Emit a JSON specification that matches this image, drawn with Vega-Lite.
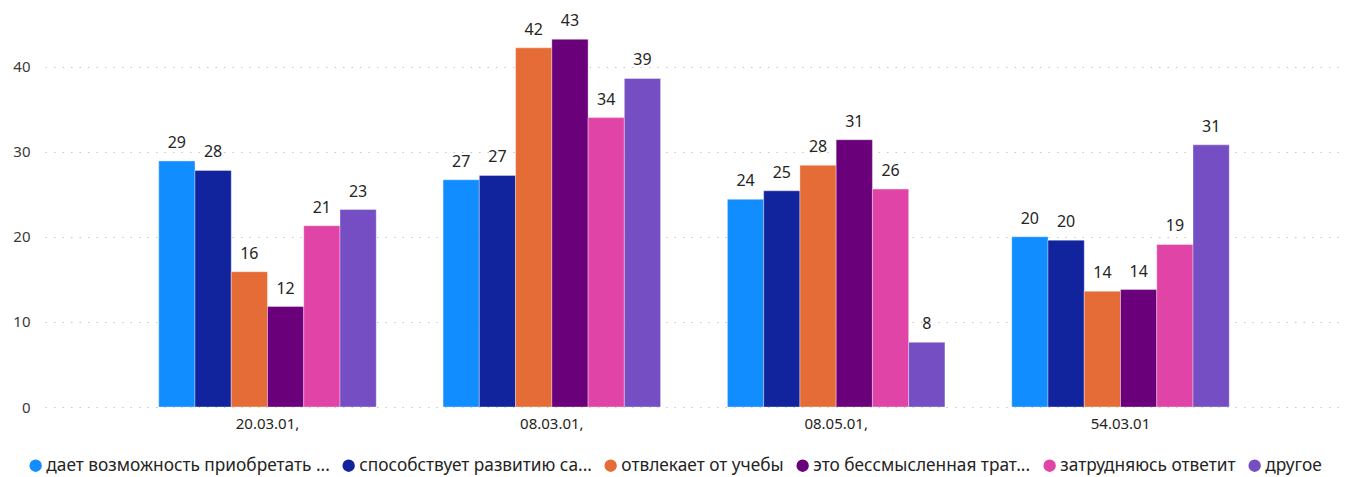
{
  "$schema": "https://vega.github.io/schema/vega-lite/v6.json",
  "width": 1298,
  "height": 383,
  "autosize": {"type": "none"},
  "padding": {"left": 45, "top": 24, "right": 2, "bottom": 70},
  "background": "white",
  "config": {
    "font": "Noto Sans",
    "view": {"stroke": null}
  },
  "data": {
    "values": [
      {"group": "20.03.01,", "cat": "дает возможность приобретать ...", "value": 28.9},
      {"group": "20.03.01,", "cat": "способствует развитию са...", "value": 27.8},
      {"group": "20.03.01,", "cat": "отвлекает от учебы", "value": 15.9},
      {"group": "20.03.01,", "cat": "это бессмысленная трат...", "value": 11.8},
      {"group": "20.03.01,", "cat": "затрудняюсь ответит", "value": 21.3},
      {"group": "20.03.01,", "cat": "другое", "value": 23.2},
      {"group": "08.03.01,", "cat": "дает возможность приобретать ...", "value": 26.7},
      {"group": "08.03.01,", "cat": "способствует развитию са...", "value": 27.2},
      {"group": "08.03.01,", "cat": "отвлекает от учебы", "value": 42.2},
      {"group": "08.03.01,", "cat": "это бессмысленная трат...", "value": 43.2},
      {"group": "08.03.01,", "cat": "затрудняюсь ответит", "value": 34.0},
      {"group": "08.03.01,", "cat": "другое", "value": 38.6},
      {"group": "08.05.01,", "cat": "дает возможность приобретать ...", "value": 24.4},
      {"group": "08.05.01,", "cat": "способствует развитию са...", "value": 25.4},
      {"group": "08.05.01,", "cat": "отвлекает от учебы", "value": 28.4},
      {"group": "08.05.01,", "cat": "это бессмысленная трат...", "value": 31.4},
      {"group": "08.05.01,", "cat": "затрудняюсь ответит", "value": 25.6},
      {"group": "08.05.01,", "cat": "другое", "value": 7.6},
      {"group": "54.03.01", "cat": "дает возможность приобретать ...", "value": 20.0},
      {"group": "54.03.01", "cat": "способствует развитию са...", "value": 19.6},
      {"group": "54.03.01", "cat": "отвлекает от учебы", "value": 13.6},
      {"group": "54.03.01", "cat": "это бессмысленная трат...", "value": 13.8},
      {"group": "54.03.01", "cat": "затрудняюсь ответит", "value": 19.1},
      {"group": "54.03.01", "cat": "другое", "value": 30.8}
    ]
  },
  "encoding": {
    "x": {
      "field": "group",
      "type": "nominal",
      "sort": ["20.03.01,", "08.03.01,", "08.05.01,", "54.03.01"],
      "scale": {"paddingInner": 0.235, "paddingOuter": 0.4},
      "axis": {
        "title": null,
        "labelAngle": 0,
        "ticks": false,
        "domain": false,
        "labelPadding": 9,
        "labelFontSize": 15,
        "labelColor": "#252423"
      }
    },
    "xOffset": {
      "field": "cat",
      "type": "nominal",
      "sort": ["дает возможность приобретать ...", "способствует развитию са...", "отвлекает от учебы", "это бессмысленная трат...", "затрудняюсь ответит", "другое"],
      "scale": {"paddingInner": 0, "paddingOuter": 0}
    },
    "y": {
      "field": "value",
      "type": "quantitative",
      "scale": {"domain": [0, 45], "nice": false},
      "axis": {
        "title": null,
        "values": [0, 10, 20, 30, 40],
        "ticks": false,
        "domain": false,
        "labelPadding": 15,
        "labelFontSize": 15,
        "labelColor": "#3B3A39",
        "gridColor": "#C8C6C4",
        "gridDash": [1.5, 7],
        "gridWidth": 1.2
      }
    }
  },
  "layer": [
    {
      "mark": {"type": "bar", "stroke": "white", "strokeOpacity": 0.35, "strokeWidth": 1},
      "encoding": {
        "color": {
          "field": "cat",
          "type": "nominal",
          "scale": {
            "domain": ["дает возможность приобретать ...", "способствует развитию са...", "отвлекает от учебы", "это бессмысленная трат...", "затрудняюсь ответит", "другое"],
            "range": ["#118DFF", "#12239E", "#E66C37", "#6B007B", "#E044A7", "#744EC2"]
          },
          "legend": {
            "title": null,
            "orient": "none",
            "direction": "horizontal",
            "legendX": -18,
            "legendY": 433,
            "symbolType": "circle",
            "symbolSize": 154,
            "symbolStrokeWidth": 0,
            "labelFontSize": 17.3,
            "labelColor": "#252423",
            "labelOffset": 2,
            "columnPadding": 10,
            "labelLimit": 500
          }
        }
      }
    },
    {
      "mark": {"type": "text", "baseline": "alphabetic", "dy": -13, "fontSize": 16, "color": "#252423"},
      "encoding": {
        "text": {"field": "value", "type": "quantitative", "format": ".0f"}
      }
    }
  ]
}
